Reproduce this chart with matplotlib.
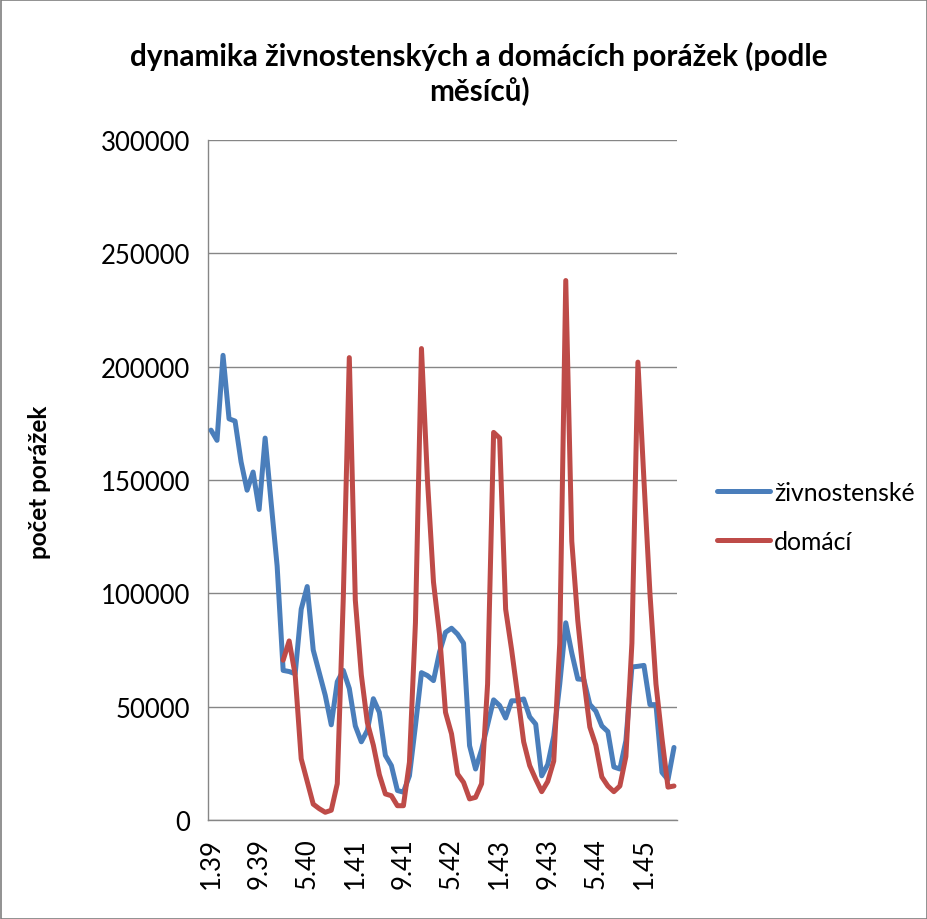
import numpy as np
import matplotlib
matplotlib.use("Agg")
import matplotlib.pyplot as plt
from matplotlib.patches import Rectangle

# ---------------- data ----------------
tick_labels = ["1.39", "9.39", "5.40", "1.41", "9.41", "5.42", "1.43", "9.43", "5.44", "1.45"]
n_months = 78  # 1.39 .. 6.45

zivnostenske = [
    172000, 167500, 205000, 177000, 176000, 158000, 145500, 153500, 137000, 168500,
    140000, 112000, 66000, 65500, 64500, 93000, 103000, 75000, 65000, 55000,
    42000, 61000, 66000, 58000, 41500, 34500, 39500, 53500, 47500, 28500,
    24000, 13000, 12300, 19500, 41600, 65000, 63700, 61500, 74000, 82800,
    84600, 82000, 78000, 32800, 22500, 31000, 42000, 53000, 50500, 45000,
    52600, 52600, 53400, 45500, 42300, 19500, 24500, 37000, 60000, 87000,
    73700, 62200, 62000, 51000, 48000, 41500, 39000, 23400, 22500, 35000,
    67500, 67800, 68200, 50900, 50900, 21000, 17800, 32000,
]

domaci_start = 12  # series begins at 1.40
domaci = [
    70500, 79000, 64000, 27000, 17000, 7000, 5000, 3400, 4300, 16000,
    98000, 204000, 97000, 64000, 43000, 33000, 20000, 11500, 10700, 6300,
    6300, 25500, 87000, 208000, 150000, 105000, 82000, 47500, 38000, 20300,
    16600, 9300, 10000, 16000, 60000, 171000, 168500, 93000, 75000, 55000,
    34500, 24000, 18000, 12500, 17000, 26000, 78000, 238000, 123000, 88000,
    62000, 41000, 33000, 19000, 15000, 12500, 15000, 28000, 78000, 202000,
    150000, 100000, 60000, 36000, 14500, 15000,
]

series_names = ["živnostenské", "domácí"]
title = "dynamika živnostenských a domácích porážek (podle\nměsíců)"
ylabel = "počet porážek"

# ---------------- style ----------------
FONT = ["Lato", "DejaVu Sans"]
plt.rcParams["font.family"] = FONT
BLUE = "#4A7EBB"
RED = "#BE4B48"
GRID = "#868686"

W, H, DPI = 928, 920, 100
fig = plt.figure(figsize=(W / DPI, H / DPI), dpi=DPI)
fig.patch.set_facecolor("white")

L, R, B, T = 208, 677, 821, 141
ax = fig.add_axes([L / W, 1 - B / H, (R - L) / W, (B - T) / H])

x_all = np.arange(n_months)
ax.plot(x_all[: len(zivnostenske)], zivnostenske, color=BLUE, lw=3.6,
        solid_joinstyle="round", solid_capstyle="round", label=series_names[0], zorder=3)
x_dom = np.arange(domaci_start, domaci_start + len(domaci))
ax.plot(x_dom, domaci, color=RED, lw=3.6,
        solid_joinstyle="round", solid_capstyle="round", label=series_names[1], zorder=4)

ax.set_xlim(-0.5, n_months - 0.5)
ax.set_ylim(0, 300000)
ax.set_yticks(np.arange(0, 300001, 50000))
ax.set_yticklabels([str(v) for v in range(0, 300001, 50000)])
ax.set_xticks(np.arange(0, len(tick_labels) * 8, 8))
ax.set_xticklabels(tick_labels, rotation=90)

ax.yaxis.grid(True, color=GRID, lw=1.0)
ax.set_axisbelow(True)
for s in ["top", "right"]:
    ax.spines[s].set_visible(False)
for s in ["left", "bottom"]:
    ax.spines[s].set_color(GRID)
    ax.spines[s].set_linewidth(1.0)

ax.tick_params(axis="y", length=0, pad=13, labelsize=18.5, colors="black")
ax.tick_params(axis="x", length=0, pad=12.5, labelsize=18.5, colors="black")

fig.text(479 / W, 1 - 42 / H, title, ha="center", va="top", fontsize=21.4,
         fontweight="bold", linespacing=1.2)
fig.text(40 / W, 1 - 482 / H, ylabel, rotation=90, ha="center", va="center",
         fontsize=17.5, fontweight="bold")

leg = ax.legend(loc="center left", bbox_to_anchor=(717 / W, 1 - 518 / H),
                bbox_transform=fig.transFigure, frameon=False, fontsize=17.8,
                handlelength=2.15, handletextpad=0.15, labelspacing=1.05,
                borderpad=0, borderaxespad=0)

fig.add_artist(Rectangle((0.5 / W, 0.5 / H), 1 - 1.5 / W, 1 - 1.5 / H,
                         transform=fig.transFigure, fill=False, ec="#7f7f7f", lw=1.2))

fig.savefig("out.png", dpi=DPI)
